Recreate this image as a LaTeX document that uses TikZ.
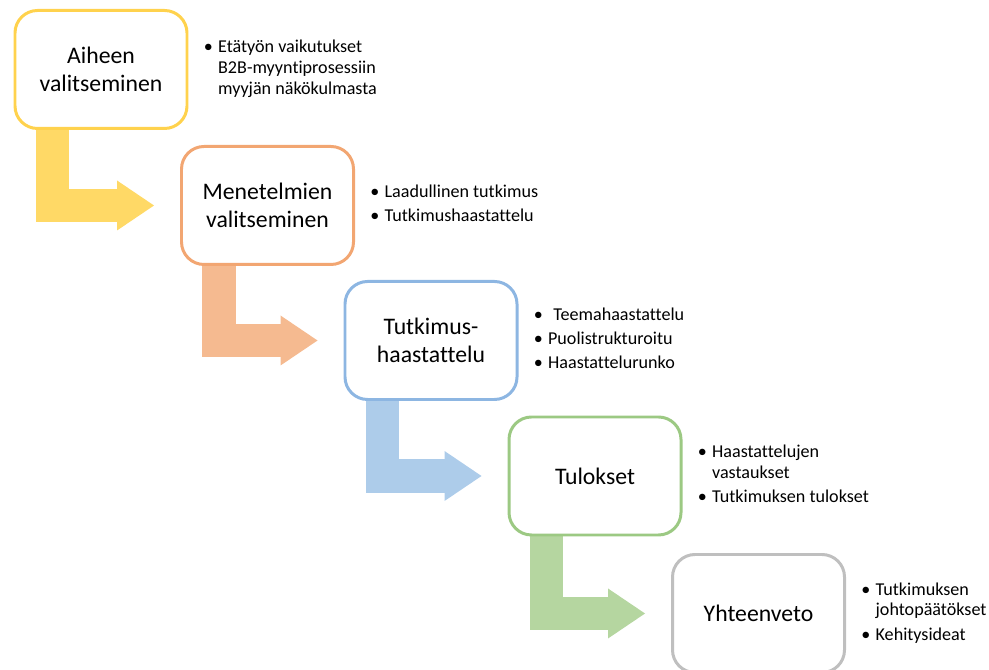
\documentclass[tikz,border=0pt]{standalone}
\usepackage{fontspec}
\setmainfont{Carlito}[Ligatures=NoCommon]
\usetikzlibrary{arrows.meta,backgrounds}
\definecolor{yellowline}{HTML}{FFD24D}
\definecolor{yellowfill}{HTML}{FFD966}
\definecolor{orangeline}{HTML}{F2A672}
\definecolor{orangefill}{HTML}{F5BA90}
\definecolor{blueline}{HTML}{8DB6E2}
\definecolor{bluefill}{HTML}{ADCCEA}
\definecolor{greenline}{HTML}{9CC983}
\definecolor{greenfill}{HTML}{B5D6A0}
\definecolor{greyline}{HTML}{BFBFBF}
\tikzset{
  stepbox/.style={draw=#1, fill=white, line width=1.7pt, rounded corners=0.45cm,
    minimum width=3.44cm, minimum height=2.36cm, align=center,
    font=\fontsize{13.5}{16}\selectfont},
  bentarrow/.style={draw=#1, line width=0.67cm, line join=miter, line cap=butt,
    -{Triangle[length=0.74cm,width=1.0cm,line width=0pt]}},
  bulletlist/.style={anchor=west, inner sep=0pt, xshift=0.3cm,
    font=\fontsize{10.3}{11.8}\selectfont},
}

\begin{document}
\begin{tikzpicture}
\useasboundingbox (0,0) rectangle (19.78,13.4);
\clip (0,0) rectangle (19.78,13.4);
\node[stepbox=yellowline] (aihe) at (2.02,12.01) {Aiheen\\valitseminen};
\node[stepbox=orangeline] (menetelma) at (5.35,9.29) {Menetelmien\\valitseminen};
\node[stepbox=blueline] (haastattelu) at (8.62,6.59) {Tutkimus-\\haastattelu};
\node[stepbox=greenline] (tulos) at (11.90,3.88) {Tulokset};
\node[stepbox=greyline] (yhteenveto) at (15.17,1.13) {Yhteenveto};
\begin{scope}[on background layer]
\draw[bentarrow=yellowfill] ([xshift=0.78cm]aihe.south west) |- ([xshift=-0.52cm]menetelma.west);
\draw[bentarrow=orangefill] ([xshift=0.78cm]menetelma.south west) |- ([xshift=-0.52cm]haastattelu.west);
\draw[bentarrow=bluefill] ([xshift=0.78cm]haastattelu.south west) |- ([xshift=-0.52cm]tulos.west);
\draw[bentarrow=greenfill] ([xshift=0.78cm]tulos.south west) |- ([xshift=-0.52cm]yhteenveto.west);
\end{scope}
\node[bulletlist] (aihelista) at (aihe.east) {\begin{tabular}{@{}l@{\hspace{3pt}}l@{}}
\textbullet & Etätyön vaikutukset\\
 & B2B-myyntiprosessiin\\
 & myyjän näkökulmasta
\end{tabular}};
\node[bulletlist] (menetelmalista) at (menetelma.east) {\begin{tabular}{@{}l@{\hspace{3pt}}l@{}}
\textbullet & Laadullinen tutkimus\\[2pt]
\textbullet & Tutkimushaastattelu
\end{tabular}};
\node[bulletlist] (haastattelulista) at (haastattelu.east) {\begin{tabular}{@{}l@{\hspace{3pt}}l@{}}
\textbullet & \hspace{3pt}Teemahaastattelu\\[2pt]
\textbullet & Puolistrukturoitu\\[2pt]
\textbullet & Haastattelurunko
\end{tabular}};
\node[bulletlist] (tuloslista) at (tulos.east) {\begin{tabular}{@{}l@{\hspace{3pt}}l@{}}
\textbullet & Haastattelujen\\
 & vastaukset\\[2pt]
\textbullet & Tutkimuksen tulokset
\end{tabular}};
\node[bulletlist] (yhteenvetolista) at (yhteenveto.east) {\begin{tabular}{@{}l@{\hspace{3pt}}l@{}}
\textbullet & Tutkimuksen\\
 & johtopäätökset\\[2pt]
\textbullet & Kehitysideat
\end{tabular}};
\end{tikzpicture}
\end{document}
